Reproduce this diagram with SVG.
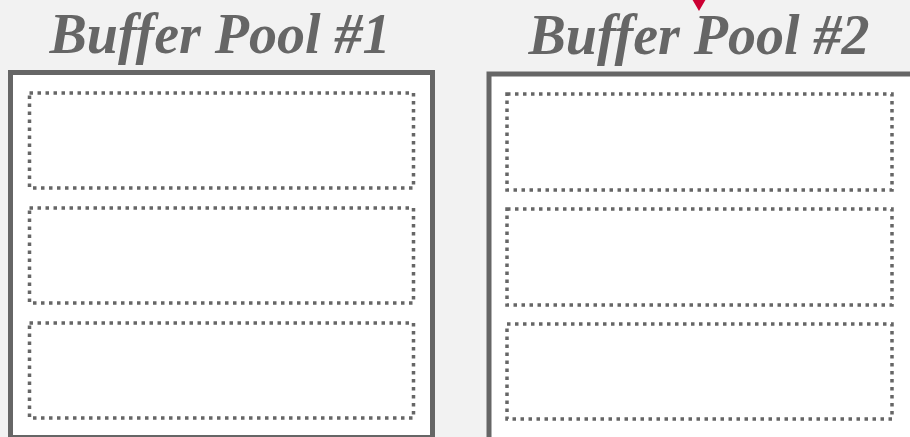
<svg xmlns="http://www.w3.org/2000/svg" width="910" height="437" viewBox="0 0 910 437">
<style>
.title{font-family:"Liberation Serif",serif;font-style:italic;font-weight:bold;font-size:56px;fill:#666666;text-anchor:middle}
.pool{fill:#ffffff;stroke:#666666;stroke-width:5}
.slot{fill:none;stroke:#666666;stroke-width:3.5;stroke-dasharray:3.5 4.5}
</style>
<rect x="0" y="0" width="910" height="437" fill="#f2f2f2"/>
<g id="pool1">
<rect class="pool" x="10.5" y="72.5" width="422" height="365"/>
<rect class="slot" x="29.5" y="93" width="384" height="95"/>
<rect class="slot" x="29.5" y="208" width="384" height="95"/>
<rect class="slot" x="29.5" y="323" width="384" height="95"/>
<text class="title" x="220" y="53">Buffer Pool #1</text>
</g>
<g id="pool2">
<rect class="pool" x="489" y="74" width="424" height="366"/>
<rect class="slot" x="507" y="94" width="385" height="96"/>
<rect class="slot" x="507" y="209" width="385" height="96"/>
<rect class="slot" x="507" y="324" width="385" height="95"/>
<text class="title" x="699" y="54">Buffer Pool #2</text>
</g>
<g id="connectors">
<polygon points="692,-1 706,-1 699,11" fill="#cc0033"/>
</g>
</svg>
